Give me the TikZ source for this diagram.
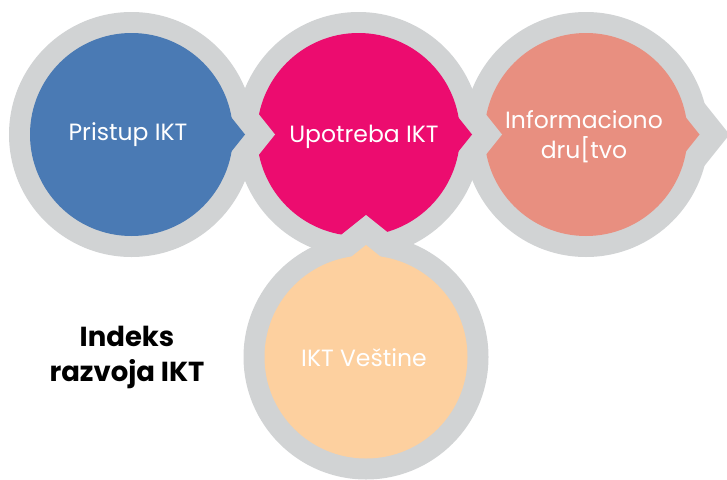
\documentclass[tikz,border=0pt]{standalone}
\usepackage{fontspec}
\setmainfont{Poppins}
\definecolor{ringgray}{HTML}{D1D3D4}
\definecolor{ictblue}{HTML}{4A7AB4}
\definecolor{ictpink}{HTML}{EC0C6F}
\definecolor{ictsalmon}{HTML}{E88F80}
\definecolor{ictpeach}{HTML}{FDD09F}

\begin{document}
\begin{tikzpicture}[x=1pt,y=-1pt]
\tikzstyle{label} = [text=white, font=\fontsize{23.5}{30}\selectfont, align=center]
\tikzstyle{title} = [text=black, font=\fontsize{27.5}{35}\selectfont\bfseries, align=center]
\useasboundingbox (0,0) rectangle (727,479);
\coordinate (c1) at (131.5,134.5);
\coordinate (c2) at (358.5,134.5);
\coordinate (c3) at (586,134.5);
\coordinate (c4) at (366,357);
% gray rings
\foreach \c in {c1,c2,c3,c4} \fill[ringgray] (\c) circle (122.5);
% bubbles pointing right, drawn from the last one back
\foreach \c/\col in {c3/ictsalmon,c2/ictpink,c1/ictblue}{
  \fill[ringgray,shift={(\c)}] (143.5,0) -- (87.5,-70) -- (87.5,70) -- cycle;
  \fill[\col,shift={(\c)}] (0,0) circle (101.5);
  \fill[\col,shift={(\c)}] (113.5,0) -- (72,-52) -- (72,52) -- cycle;
}
% bubble pointing up
\fill[ringgray,shift={(c4)}] (0,-142) -- (-70,-86) -- (70,-86) -- cycle;
\fill[ictpeach,shift={(c4)}] (0,0) circle (101.5);
\fill[ictpeach,shift={(c4)}] (0,-112) -- (-52,-70.4) -- (52,-70.4) -- cycle;

\node[label] (pristup) at (128,135) {Pristup IKT};
\node[label] (upotreba) at (364,137) {Upotreba IKT};
\node[label] (drustvo) at (584,137) {Informaciono\\dru[tvo};
\node[label] (vestine) at (364,358) {IKT Veštine};
\node[title] (indeks) at (127,357) {Indeks\\razvoja IKT};
\end{tikzpicture}
\end{document}
